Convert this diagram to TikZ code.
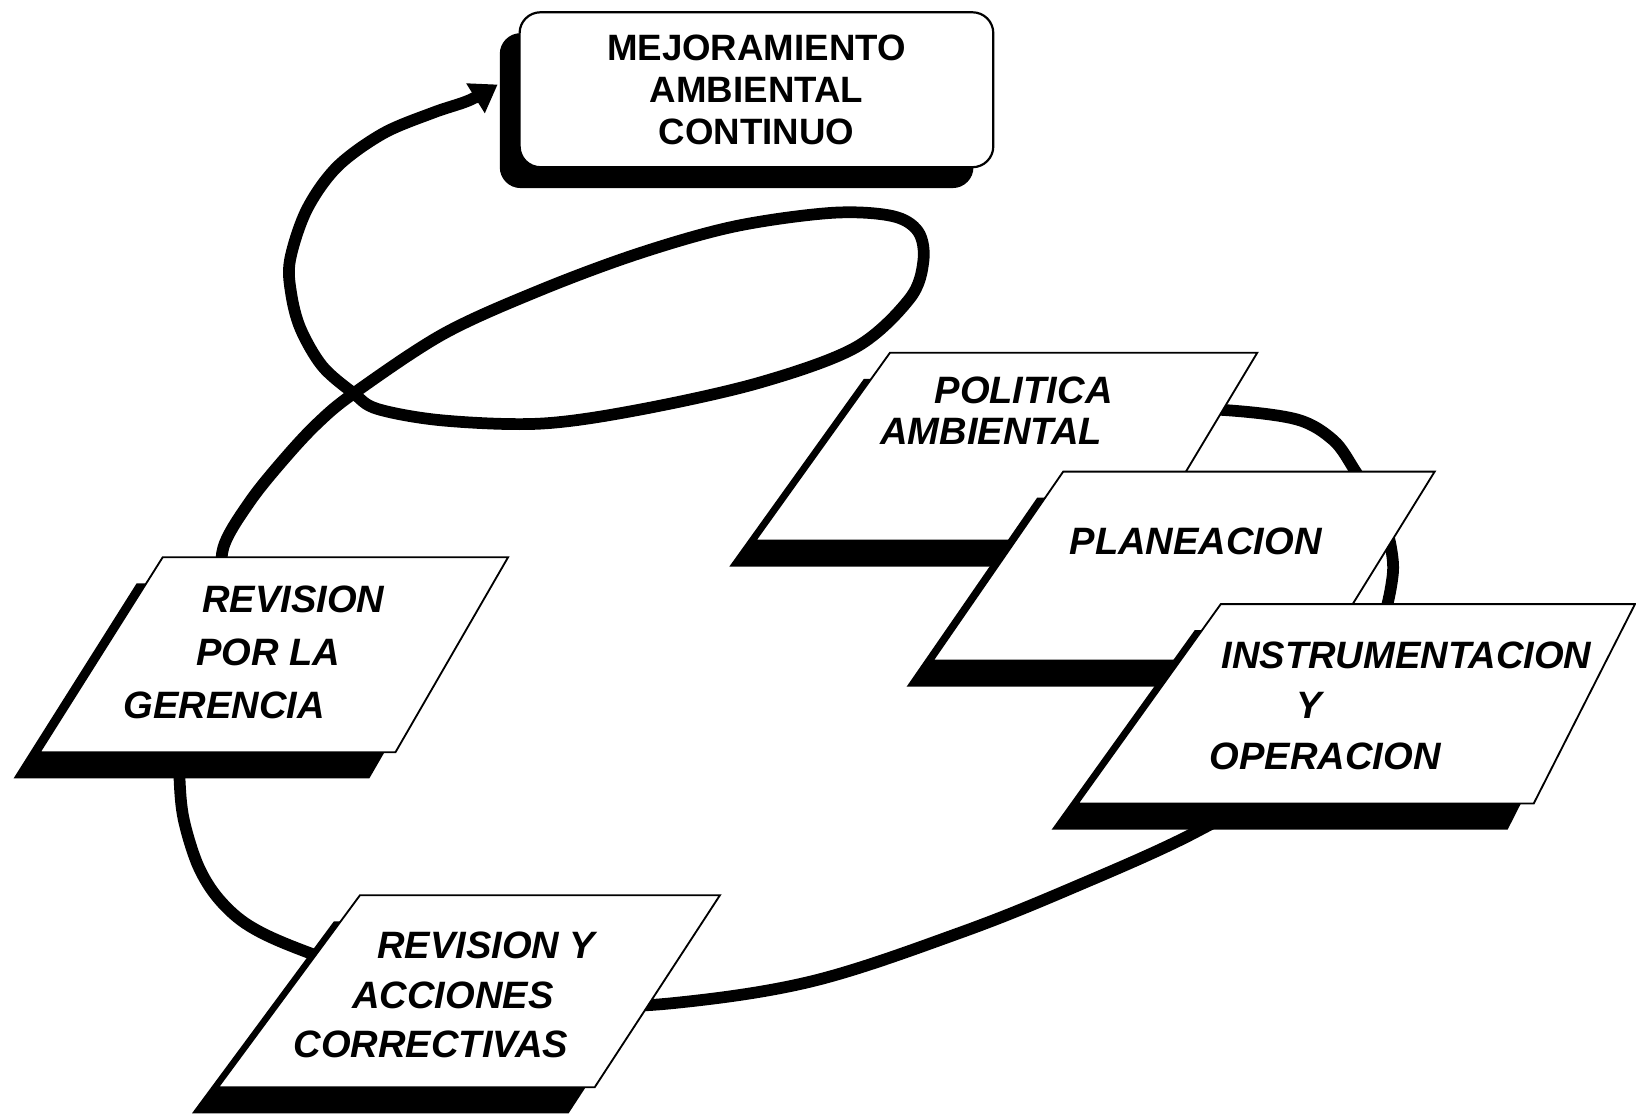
\documentclass[tikz,border=0pt]{standalone}
\usepackage{fontspec}
\setmainfont{Liberation Sans}
\usetikzlibrary{arrows.meta,shadows,backgrounds}
\begin{document}
\begin{tikzpicture}[font=\bfseries,
    hoja/.style={fill=white,draw=black,line width=0.5pt},
    sombra/.style={fill=black,shift={(-0.25,-0.25)}},
    rotulo/.style={font=\bfseries\itshape\fontsize{10.4}{#1}\selectfont,align=center,inner sep=0pt},
    lazo/.style={line width=3.2pt,line cap=round,line join=round}]
  \useasboundingbox (0,0) rectangle (15.68,-10.67);
  \node[draw,fill=white,line width=0.6pt,rounded corners=0.2cm,
    minimum width=4.54cm,minimum height=1.485cm,align=center,
    font=\bfseries\fontsize{10}{11.5}\selectfont,
    drop shadow={shadow xshift=-0.19cm,shadow yshift=-0.2cm,fill=black,opacity=1}]
    (mejora) at (7.25,-0.86) {MEJORAMIENTO\\AMBIENTAL\\CONTINUO};
  \fill[sombra] (1.56,-5.34) -- (4.87,-5.34) -- (3.79,-7.21) -- (0.38,-7.21) -- cycle;
  \filldraw[hoja] (1.56,-5.34) -- (4.87,-5.34) -- (3.79,-7.21) -- (0.38,-7.21) -- cycle;
  \node[rotulo=14.5pt] (gerencia) at (2.15,-6.25)
    {\hspace*{1.32cm}REVISION\\\hspace*{0.84cm}POR LA\\GERENCIA};
  \fill[sombra] (3.45,-8.58) -- (6.90,-8.58) -- (5.70,-10.42) -- (2.09,-10.42) -- cycle;
  \filldraw[hoja] (3.45,-8.58) -- (6.90,-8.58) -- (5.70,-10.42) -- (2.09,-10.42) -- cycle;
  \node[rotulo=13.4pt] (acciones) at (4.13,-9.535)
    {\hspace*{1.06cm}REVISION Y\\\hspace*{0.42cm}ACCIONES\\CORRECTIVAS};
  \fill[sombra] (8.53,-3.38) -- (12.05,-3.38) -- (10.97,-5.18) -- (7.24,-5.18) -- cycle;
  \filldraw[hoja] (8.53,-3.38) -- (12.05,-3.38) -- (10.97,-5.18) -- (7.24,-5.18) -- cycle;
  \node[rotulo=11.1pt] (politica) at (9.50,-3.935) {\hspace*{0.62cm}POLITICA\\AMBIENTAL};
  \fill[sombra] (10.19,-4.52) -- (13.75,-4.52) -- (12.63,-6.33) -- (8.94,-6.33) -- cycle;
  \filldraw[hoja] (10.19,-4.52) -- (13.75,-4.52) -- (12.63,-6.33) -- (8.94,-6.33) -- cycle;
  \node[rotulo=12pt] (planeacion) at (11.46,-5.19) {PLANEACION};
  \fill[sombra] (11.70,-5.79) -- (15.67,-5.79) -- (14.70,-7.70) -- (10.33,-7.70) -- cycle;
  \filldraw[hoja] (11.70,-5.79) -- (15.67,-5.79) -- (14.70,-7.70) -- (10.33,-7.70) -- cycle;
  \node[rotulo=13.9pt] (instrumentacion) at (12.70,-6.765)
    {\hspace*{1.56cm}INSTRUMENTACION\\\hspace*{-0.30cm}Y\\OPERACION};
  \begin{scope}[on background layer]
    \draw[lazo,-{Triangle[length=0.25cm,width=0.32cm]}] plot[smooth,tension=0.55] coordinates
      {(gerencia) (2.14,-5.7) (2.14,-5.25) (2.40,-4.80) (2.74,-4.38) (3.05,-4.05) (3.39,-3.77)
       (4.25,-3.20) (5.18,-2.78) (6.12,-2.43) (7.04,-2.17) (7.97,-2.04) (8.55,-2.07)
       (8.80,-2.22) (8.85,-2.50) (8.72,-2.86) (8.20,-3.33) (7.27,-3.67) (6.11,-3.93) (5.18,-4.06)
       (4.25,-4.03) (3.62,-3.92) (3.39,-3.77) (3.09,-3.51) (2.88,-3.15) (2.79,-2.81) (2.78,-2.49)
       (2.94,-2.01) (3.23,-1.60) (3.67,-1.28) (4.15,-1.08) (4.50,-0.96)
       ([xshift=-0.2cm,yshift=0.05cm]mejora.west)};
    \draw[lazo] plot[smooth,tension=0.55] coordinates
      {(politica) (11.0,-3.92) (11.74,-3.93) (12.43,-4.02) (12.78,-4.22) (12.98,-4.50)
       (13.17,-4.82) (13.29,-5.08) (13.34,-5.30) (13.35,-5.49) (13.30,-5.78) (13.2,-6.1)
       (instrumentacion)};
    \draw[lazo] plot[smooth,tension=0.6] coordinates
      {(instrumentacion) (12.2,-7.5) (11.45,-7.98) (10.30,-8.50) (9.20,-8.94) (7.80,-9.40)
       (6.49,-9.61) (5.6,-9.63) (acciones)};
    \draw[lazo] plot[smooth,tension=0.55] coordinates
      {(gerencia) (1.72,-7.0) (1.72,-7.45) (1.76,-7.85) (1.90,-8.30) (2.10,-8.62) (2.40,-8.88)
       (2.93,-9.12) (acciones)};
  \end{scope}
\end{tikzpicture}
\end{document}
